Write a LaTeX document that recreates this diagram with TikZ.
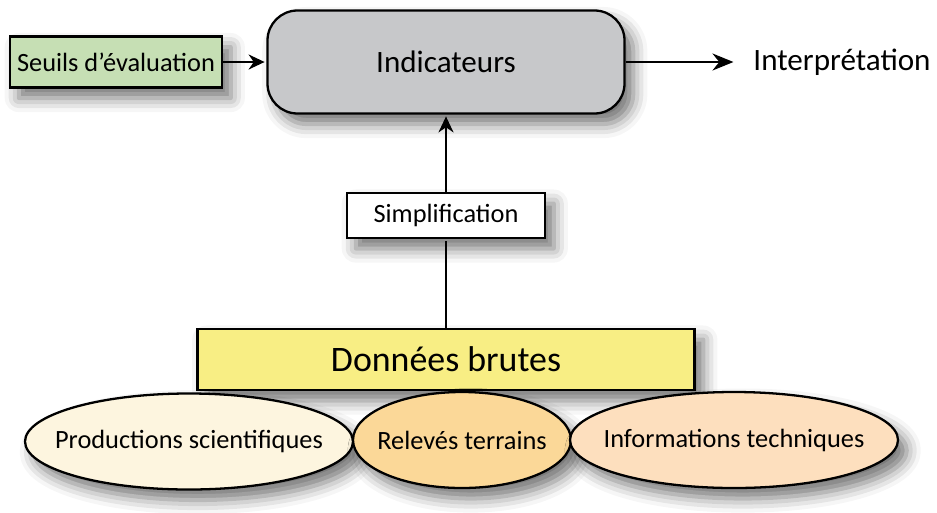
\documentclass[tikz,border=0pt]{standalone}
\usepackage{fontspec}
\setmainfont{Carlito}
\usetikzlibrary{arrows.meta,shapes.geometric,shadows.blur}

\definecolor{seuilvert}{HTML}{C6DFB4}
\definecolor{indgris}{HTML}{C7C8CA}
\definecolor{donneesjaune}{HTML}{F8EE84}
\definecolor{prodcreme}{HTML}{FDF5DF}
\definecolor{relorange}{HTML}{FBD898}
\definecolor{infopeche}{HTML}{FDDFBE}

% text of the ovals takes no width, the oval keeps its own size
\newcommand{\ovaltext}[1]{\makebox[0pt]{#1}}

\begin{document}
\begin{tikzpicture}[->,>={Stealth[length=0.32cm,width=0.3cm]},shorten >=1pt,auto,line width=1.3pt,
    shade node/.style={blur shadow={shadow xshift=5pt,shadow yshift=-6pt,shadow blur radius=8pt,shadow opacity=55}},
    box node/.style={rectangle,draw,shade node,inner sep=0pt,font=\fontsize{15}{18}\selectfont},
    oval node/.style={ellipse,draw,shade node,inner sep=0pt,minimum width=6.56cm,minimum height=1.92cm,font=\fontsize{15}{18}\selectfont}]

  \useasboundingbox (0,0) rectangle (18.74,-10.24);

  \node[box node,fill=indgris,rounded corners=0.6cm,minimum width=7.14cm,minimum height=2.06cm,font=\fontsize{17.7}{21}\selectfont] (ind) at (8.92,-1.24) {Indicateurs};
  \node[box node,fill=seuilvert,minimum width=4.24cm,minimum height=1.02cm] (seuils) [left of=ind,node distance=6.6cm] {Seuils d’évaluation};
  \node[font=\fontsize{17.7}{21}\selectfont] (interp) [right of=ind,node distance=7.92cm] {Interprétation};
  \node[box node,fill=white,minimum width=3.96cm,minimum height=0.9cm] (simpl) [below of=ind,node distance=3.07cm] {Simplification};
  \node[box node,fill=donneesjaune,minimum width=9.94cm,minimum height=1.22cm,font=\fontsize{20.4}{24}\selectfont] (donnees) [below of=ind,node distance=5.95cm] {Données brutes};

  \node[oval node,fill=prodcreme] (prod) [below of=donnees,node distance=1.64cm,xshift=-5.14cm] {\ovaltext{Productions scientifiques}};
  \node[oval node,fill=relorange,minimum width=4.36cm] (releves) [below of=donnees,node distance=1.61cm,xshift=0.32cm] {\ovaltext{Relevés terrains}};
  \node[oval node,fill=infopeche] (info) [below of=donnees,node distance=1.61cm,xshift=5.76cm] {\ovaltext{Informations techniques}};

  \path (seuils) edge (ind)
        (ind) edge[-{Stealth[length=0.42cm,width=0.34cm]},shorten >=0.26cm] (interp)
        (simpl) edge (ind)
        (donnees) edge[-] (simpl)
        ;

\end{tikzpicture}
\end{document}
